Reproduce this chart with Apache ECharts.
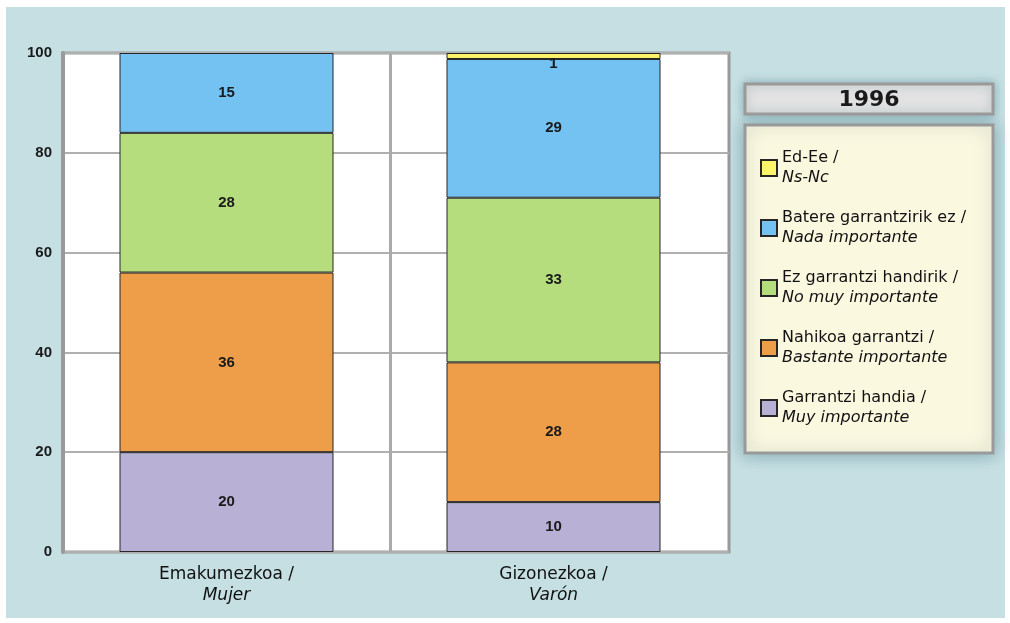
<!DOCTYPE html>
<html>
<head>
<meta charset="utf-8">
<script src="https://cdn.jsdelivr.net/npm/echarts@6/dist/echarts.min.js"></script>
<style>
html, body { margin: 0; padding: 0; background: #fff; }
#main { width: 1010px; height: 623px; background: #C5DFE3;
        box-shadow: inset 6px 7px 0 #fff, inset -5px -5px 0 #fff; }
</style>
</head>
<body>
<div id="main"></div>
<script>
// categories (basque / spanish)
var catEu = ['Emakumezkoa', 'Gizonezkoa'];
var catEs = ['Mujer', 'Varón'];

// series, bottom to top
var namesEu = ['Garrantzi handia', 'Nahikoa garrantzi', 'Ez garrantzi handirik', 'Batere garrantzirik ez', 'Ed-Ee'];
var namesEs = ['Muy importante', 'Bastante importante', 'No muy importante', 'Nada importante', 'Ns-Nc'];
var colors = ['#B9B0D6', '#EE9D48', '#B5DC7D', '#74C2F2', '#FFF36B'];

// bar heights as drawn (%)
var handia = [20, 10];
var nahikoa = [36, 28];
var ezHandirik = [28, 33];
var batere = [16, 27.8];
var edEe = [null, 1.2];
// numbers printed on the segments
var handiaLbl = [20, 10];
var nahikoaLbl = [36, 28];
var ezHandirikLbl = [28, 33];
var batereLbl = [15, 29];
var edEeLbl = [null, 1];

var yTicks = [0, 20, 40, 60, 80, 100];

var values = [handia, nahikoa, ezHandirik, batere, edEe];
var printed = [handiaLbl, nahikoaLbl, ezHandirikLbl, batereLbl, edEeLbl];

var box = echarts.init(document.getElementById('main'));

var series = namesEu.map(function (name, i) {
    return {
        name: name,
        type: 'bar',
        stack: 'total',
        xAxisIndex: 1,
        yAxisIndex: 1,
        barWidth: 214,
        color: colors[i],
        itemStyle: { borderColor: '#262626', borderWidth: 1 },
        label: {
            show: true,
            position: 'inside',
            offset: i === 4 ? [0, 8] : [0, 0],
            color: '#1a1a1a',
            fontFamily: 'Liberation Sans',
            fontWeight: 'bold',
            fontSize: 15,
            formatter: function (p) {
                var v = printed[p.seriesIndex][p.dataIndex];
                return v == null ? '' : String(v);
            }
        },
        data: values[i]
    };
});

option = {
    animation: false,
    grid: [
        { left: 63, right: 281, top: 53, bottom: 71, show: true,
          backgroundColor: '#fff', borderColor: '#9a9a9a', borderWidth: 3 },
        { left: 63, right: 293, top: 53, bottom: 71 }
    ],
    xAxis: [
        { gridIndex: 0, type: 'category', data: ['', ''], show: false },
        {
            gridIndex: 1,
            type: 'category',
            data: catEu,
            axisLine: { show: false },
            axisTick: { show: false },
            splitLine: {
                show: true, showMinLine: false, showMaxLine: false,
                lineStyle: { color: '#aaa', width: 3 }
            },
            axisLabel: {
                margin: 12,
                formatter: function (v, idx) {
                    return '{a|' + v + ' /}\n{b|' + catEs[idx] + '}';
                },
                rich: {
                    a: { fontFamily: 'DejaVu Sans', fontSize: 17, color: '#111', lineHeight: 21 },
                    b: { fontFamily: 'DejaVu Sans', fontSize: 17, fontStyle: 'italic', color: '#111', lineHeight: 21 }
                }
            }
        }
    ],
    yAxis: [
        {
            gridIndex: 0,
            type: 'value',
            min: yTicks[0],
            max: yTicks[yTicks.length - 1],
            interval: 20,
            axisLine: { show: true, lineStyle: { color: '#9a9a9a', width: 4 } },
            axisTick: { show: false },
            splitLine: { lineStyle: { color: '#b0b0b0', width: 2 } },
            axisLabel: {
                margin: 11,
                color: '#1a1a1a',
                fontFamily: 'Liberation Sans',
                fontWeight: 'bold',
                fontSize: 15
            }
        },
        { gridIndex: 1, type: 'value', min: 0, max: 100, show: false }
    ],
    legend: {
        orient: 'vertical',
        left: 755,
        top: 145,
        selectedMode: false,
        icon: 'rect',
        itemWidth: 16,
        itemHeight: 16,
        itemGap: 24,
        z: 10,
        data: namesEu.slice().reverse(),
        formatter: function (name) {
            var k = namesEu.indexOf(name);
            return '{a|' + name + ' /}\n{b|' + namesEs[k] + '}';
        },
        textStyle: {
            rich: {
                a: { fontFamily: 'DejaVu Sans', fontSize: 16, color: '#111', lineHeight: 20 },
                b: { fontFamily: 'DejaVu Sans', fontSize: 16, fontStyle: 'italic', color: '#111', lineHeight: 20 }
            }
        }
    },
    graphic: [
        {
            type: 'rect', z: 1,
            shape: { x: 745, y: 125, width: 248, height: 328 },
            style: { fill: '#FBF8E0', stroke: '#9a9a9a', lineWidth: 3,
                     shadowBlur: 16, shadowColor: 'rgba(40,90,100,0.4)' }
        },
        {
            type: 'rect', z: 1,
            shape: { x: 745, y: 84, width: 248, height: 30 },
            style: { fill: '#E2E2E2', stroke: '#9a9a9a', lineWidth: 3,
                     shadowBlur: 10, shadowColor: 'rgba(40,90,100,0.35)' }
        },
        {
            type: 'text', z: 2,
            x: 869, y: 100,
            style: { text: '1996', align: 'center', verticalAlign: 'middle',
                     font: 'bold 22px "DejaVu Sans"', fill: '#1a1a1a' }
        }
    ],
    series: series
};
box.setOption(option);
</script>
</body>
</html>
